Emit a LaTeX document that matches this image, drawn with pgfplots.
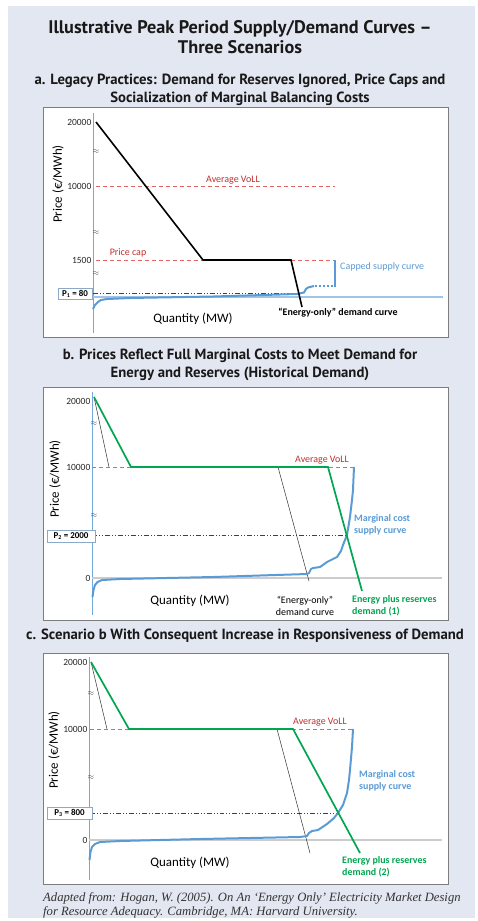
\documentclass[border=0pt]{standalone}
\usepackage{pgfplots}
\pgfplotsset{compat=1.18}
\usepackage{fontspec}
\setmainfont{Carlito}
\newfontfamily\titlefont{PT Sans}
\newfontfamily\capfont{Liberation Serif}
\definecolor{bg}{RGB}{227,231,241}
\definecolor{sblue}{RGB}{91,155,213}
\definecolor{lblue}{RGB}{160,196,230}
\definecolor{dred}{RGB}{192,48,48}
\definecolor{rdash}{RGB}{228,100,100}
\definecolor{dgreen}{RGB}{0,166,80}
\definecolor{framec}{RGB}{125,125,125}
\definecolor{boxc}{RGB}{140,170,200}
\pgfplotsset{
  panel/.style={
    anchor=north west, scale only axis, clip=false,
    y dir=reverse,
    axis x line=none, axis y line=left,
    y axis line style={-, sblue!85, line width=1pt},
    major tick length=0pt,
    yticklabel style={font=\fontsize{9.5}{10}\selectfont, inner sep=1.5pt, text=black!85},
    /pgf/number format/assume math mode=true,
  },
  supply/.style={sblue, line width=2pt, line join=round},
  voll/.style={rdash, line width=0.8pt, dash pattern=on 4pt off 3pt},
  pline/.style={black!75, line width=0.6pt, dash pattern=on 5pt off 2pt on 1pt off 2pt on 1pt off 2pt},
  xaxisg/.style={black!20, line width=2.5pt},
  green/.style={dgreen, line width=1.7pt},
  thinb/.style={black!80, line width=0.5pt},
}
\tikzset{
  lab/.style={font=\fontsize{10}{12}\selectfont, inner sep=0pt},
  big/.style={font=\fontsize{13}{15}\selectfont, inner sep=0pt},
  pbox/.style={draw=boxc, fill=white, line width=0.6pt, font=\bfseries\fontsize{9}{10}\selectfont, inner sep=1.5pt, text=black},
  apx/.style={font=\footnotesize, inner sep=0pt, text=black!70},
  ttl/.style={font=\titlefont\bfseries\fontsize{14.8}{18.5}\selectfont, align=center, text=black!90},
  captxt/.style={font=\capfont\itshape\fontsize{12.7}{14}\selectfont, anchor=base west, inner sep=0pt, text=black!80},
}
\begin{document}
\begin{tikzpicture}
\useasboundingbox (0bp,0bp) rectangle (478bp,-921bp);
\fill[white] (0bp,0bp) rectangle (478bp,-921bp);
\fill[bg] (8bp,-6bp) rectangle (475bp,-918bp);
% titles
\node[font=\titlefont\bfseries\fontsize{18.3}{20}\selectfont, align=center, text=black!90] at (240bp,-37bp) {Illustrative Peak Period Supply/Demand Curves –\\Three Scenarios};
\node[ttl] at (240bp,-90bp) {a. Legacy Practices: Demand for Reserves Ignored, Price Caps and\\Socialization of Marginal Balancing Costs};
\node[ttl] at (240bp,-365bp) {b. Prices Reflect Full Marginal Costs to Meet Demand for\\Energy and Reserves (Historical Demand)};
\node[ttl] at (245bp,-636bp) {c. Scenario b With Consequent Increase in Responsiveness of Demand};
% frames
\draw[framec, line width=0.8pt, fill=white] (43bp,-107bp) rectangle (448bp,-337bp);
\draw[framec, line width=0.8pt, fill=white] (43bp,-387bp) rectangle (448bp,-620bp);
\draw[framec, line width=0.8pt, fill=white] (43bp,-653bp) rectangle (448bp,-884bp);
% caption
\node[captxt] at (43bp,-901bp) {Adapted from: Hogan, W. (2005). On An ‘Energy Only’ Electricity Market Design};
\node[captxt] at (43bp,-915bp) {for Resource Adequacy. Cambridge, MA: Harvard University.};

% ---------------- Panel a ----------------
\begin{axis}[panel, at={(93bp,-113bp)}, width=350bp, height=220bp,
  xmin=93, xmax=443, ymin=113, ymax=333,
  ytick={122,186,260}, yticklabels={20000,10000,1500}]
\addplot[lblue, line width=1.2pt] coordinates {(93,297) (443,297)};
\addplot[voll] coordinates {(96,186) (335,186)};
\addplot[voll] coordinates {(96,260) (335,260)};
\addplot[pline] coordinates {(93,293) (298,293)};
\addplot[supply] coordinates {(93,309) (95,305) (98,302) (101,300) (107,299) (130,298) (213,296.5) (297,294) (304,292.5) (306,289) (308,287.5) (314,286)};
\addplot[sblue, line width=1.6pt, dash pattern=on 2pt off 2pt] coordinates {(315,286) (333,286)};
\addplot[sblue, line width=1.4pt] coordinates {(335,287) (335,260)};
\addplot[black, line width=1.6pt] coordinates {(96,122) (203,260) (291,260) (302,307)};
\node[lab, text=dred] at (axis cs:233,180) {Average VoLL};
\node[lab, text=dred] at (axis cs:128,253) {Price cap};
\node[lab, text=sblue, anchor=west] at (axis cs:340,267) {Capped supply curve};
\node[lab, font=\bfseries\fontsize{10}{12}\selectfont] at (axis cs:338,313) {“Energy-only” demand curve};
\node[big] at (axis cs:193,319) {Quantity (MW)};
\node[big, rotate=90] at (axis cs:58,184) {Price (€/MWh)};
\node[pbox, minimum width=34bp, minimum height=11bp] at (axis cs:75,293.5) {P\textsubscript{1} = 80};
\node[apx] at (axis cs:96,152) {$\approx$};
\node[apx] at (axis cs:96,233) {$\approx$};
\node[apx] at (axis cs:96,274) {$\approx$};
\end{axis}

% ---------------- Panel b ----------------
\begin{axis}[panel, at={(92bp,-392bp)}, width=350bp, height=223bp,
  xmin=92, xmax=442, ymin=392, ymax=615,
  ytick={401,467,578}, yticklabels={20000,10000,0}]
\addplot[xaxisg] coordinates {(92,578) (442,578)};
\addplot[voll] coordinates {(92,467) (355,467)};
\addplot[pline] coordinates {(92,535) (347,535)};
\addplot[thinb] coordinates {(94,397) (109,467)};
\addplot[thinb] coordinates {(278,467) (309,581)};
\addplot[supply] coordinates {(92.5,597) (93.5,590) (95,585) (97.5,582) (102,580) (120,579) (213,577) (307,574) (309,573) (311,569) (313,568) (320,567) (327,562) (337,557) (341,551) (343,545) (347,535) (350,517) (352,500) (353,490) (354,467)};
\addplot[green] coordinates {(94,397) (131,467) (328,467) (362,591)};
\node[lab, text=dred] at (axis cs:322,460) {Average VoLL};
\node[lab, font=\bfseries\fontsize{10}{12}\selectfont, text=sblue, anchor=west, align=left] at (axis cs:354,525) {Marginal cost\\supply curve};
\node[lab, font=\bfseries\fontsize{10}{12}\selectfont, text=dgreen, anchor=west, align=left] at (axis cs:352,606) {Energy plus reserves\\demand (1)};
\node[lab, align=center] at (axis cs:305,606) {“Energy-only”\\demand curve};
\node[big] at (axis cs:190,601) {Quantity (MW)};
\node[big, rotate=90] at (axis cs:55,479) {Price (€/MWh)};
\node[pbox, minimum width=48bp, minimum height=12bp] at (axis cs:71,536) {P\textsubscript{2} = 2000};
\node[apx] at (axis cs:94,423) {$\approx$};
\node[apx] at (axis cs:94,515) {$\approx$};
\end{axis}

% ---------------- Panel c ----------------
\begin{axis}[panel, at={(89bp,-657bp)}, width=353bp, height=223bp,
  xmin=89, xmax=442, ymin=657, ymax=880,
  ytick={662,729,840}, yticklabels={20000,10000,0}]
\addplot[xaxisg] coordinates {(89,840) (442,840)};
\addplot[voll] coordinates {(90,729) (353,729)};
\addplot[pline] coordinates {(90,813) (338,813)};
\addplot[thinb] coordinates {(91,662) (107,729)};
\addplot[thinb] coordinates {(277,729) (310,853)};
\addplot[supply] coordinates {(89.5,860) (90.5,852) (92,847) (95,844) (100,842) (120,841) (200,839) (300,837) (307,836) (309,833) (312,831) (318,830) (327,824) (334,818) (338,813) (343,805) (347,793) (349,780) (350,770) (352,747) (353,729)};
\addplot[green] coordinates {(91,662) (129,729) (293,729) (360,853)};
\node[lab, text=dred] at (axis cs:320,722) {Average VoLL};
\node[lab, font=\bfseries\fontsize{10}{12}\selectfont, text=sblue, anchor=west, align=left] at (axis cs:359,781) {Marginal cost\\supply curve};
\node[lab, font=\bfseries\fontsize{10}{12}\selectfont, text=dgreen, anchor=west, align=left] at (axis cs:342,867) {Energy plus reserves\\demand (2)};
\node[big] at (axis cs:190,863) {Quantity (MW)};
\node[big, rotate=90] at (axis cs:54,750) {Price (€/MWh)};
\node[pbox, minimum width=45bp, minimum height=12bp] at (axis cs:69.5,813) {P\textsubscript{3} = 800};
\node[apx] at (axis cs:91,693) {$\approx$};
\node[apx] at (axis cs:91,777) {$\approx$};
\end{axis}
\end{tikzpicture}
\end{document}
